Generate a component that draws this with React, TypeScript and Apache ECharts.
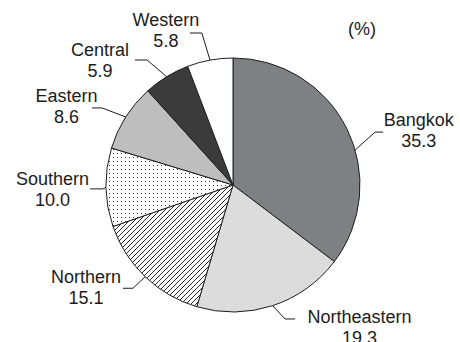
import React, { useEffect, useRef } from 'react';
import * as echarts from 'echarts';

// ---- data ----
const categories = ['Bangkok', 'Northeastern', 'Northern', 'Southern', 'Eastern', 'Central', 'Western'];
const values = [35.3, 19.3, 15.1, 10.0, 8.6, 5.9, 5.8];
const unitText = '(%)';

// ---- styles / layout ----
const CX = 233;
const CY = 185;
const R = 127;
const FONT = '"Liberation Sans", Arial, Helvetica, sans-serif';
const TEXT_COLOR = '#1c1c1c';
const LINE_COLOR = '#1c1c1c';

// per-slice guide geometry (relative offsets): anchor angle nudge (deg), bend, horizontal run, text offset
const LABEL_GUIDES: { nudge: number; bend: [number, number]; run: number; text: [number, number] }[] = [
  { nudge: 10.5, bend: [20, -18], run: 8, text: [35.7, -2] },      // Bangkok
  { nudge: 0, bend: [12.4, 13.3], run: 10, text: [64.5, 8.3] },    // Northeastern
  { nudge: 0, bend: [-12.2, 11.5], run: -10, text: [-37, -0.3] },  // Northern
  { nudge: 0, bend: [-3, 1.5], run: -13, text: [-37.5, 1] },       // Southern
  { nudge: 0, bend: [-23.8, -9], run: -10, text: [-25.5, -1] },    // Eastern
  { nudge: 0, bend: [-19.6, -16.7], run: -12, text: [-35, 0.8] },  // Central
  { nudge: 0, bend: [-8.1, -27.1], run: -12, text: [-24, -2.6] },  // Western
];

function makeHatch() {
  const c = document.createElement('canvas');
  c.width = 5;
  c.height = 5;
  const g = c.getContext('2d')!;
  g.fillStyle = '#ffffff';
  g.fillRect(0, 0, 5, 5);
  g.fillStyle = '#2a2a2a';
  for (let k = 0; k < 5; k++) g.fillRect(k, 4 - k, 1, 1);
  return { image: c, repeat: 'repeat' as const };
}

function makeDots() {
  const c = document.createElement('canvas');
  c.width = 4;
  c.height = 4;
  const g = c.getContext('2d')!;
  g.fillStyle = '#ffffff';
  g.fillRect(0, 0, 4, 4);
  g.fillStyle = '#333333';
  g.fillRect(1, 1, 1, 1);
  return { image: c, repeat: 'repeat' as const };
}

export default function App() {
  const ref = useRef<HTMLDivElement>(null);

  useEffect(() => {
    if (!ref.current) return;
    const chart = echarts.init(ref.current, undefined, { renderer: 'svg' });

    const fills: any[] = ['#7f8083', '#dcdcdd', makeHatch(), makeDots(), '#bebebf', '#3b3b3b', '#ffffff'];
    const total = values.reduce((a, b) => a + b, 0);

    chart.setOption({
      animation: false,
      backgroundColor: '#ffffff',
      graphic: [
        {
          type: 'text',
          x: 348,
          y: 29,
          style: {
            text: unitText,
            fontFamily: FONT,
            fontSize: 18,
            fill: TEXT_COLOR,
            verticalAlign: 'middle',
            align: 'left',
          },
        },
      ],
      series: [
        {
          type: 'pie',
          center: [CX, CY],
          radius: R,
          startAngle: 90,
          clockwise: true,
          avoidLabelOverlap: false,
          data: categories.map((name, i) => ({
            name,
            value: values[i],
            itemStyle: { color: fills[i] },
          })),
          itemStyle: { borderColor: '#1f1f1f', borderWidth: 1 },
          emphasis: { disabled: true },
          label: {
            show: true,
            position: 'outside',
            formatter: (p: any) => `${p.name}\n${Number(p.value).toFixed(1)}`,
            fontFamily: FONT,
            fontSize: 18,
            lineHeight: 21,
            color: TEXT_COLOR,
          },
          labelLine: {
            show: true,
            lineStyle: { color: LINE_COLOR, width: 1 },
          },
          labelLayout: (params: any) => {
            const i = params.dataIndex;
            const g = LABEL_GUIDES[i];
            const before = values.slice(0, i).reduce((a, b) => a + b, 0);
            const theta = (((before + values[i] / 2) / total) * 360 + g.nudge) * (Math.PI / 180);
            const p0 = [CX + R * Math.sin(theta), CY - R * Math.cos(theta)];
            const p1 = [p0[0] + g.bend[0], p0[1] + g.bend[1]];
            const p2 = [p1[0] + g.run, p1[1]];
            return {
              x: p2[0] + g.text[0],
              y: p2[1] + g.text[1],
              align: 'center',
              verticalAlign: 'middle',
              labelLinePoints: [p0, p1, p2],
            };
          },
        },
      ],
    });

    return () => chart.dispose();
  }, []);

  return (
    <div
      ref={ref}
      style={{ position: 'fixed', left: 0, top: 0, width: 460, height: 342, background: '#fff' }}
    />
  );
}
